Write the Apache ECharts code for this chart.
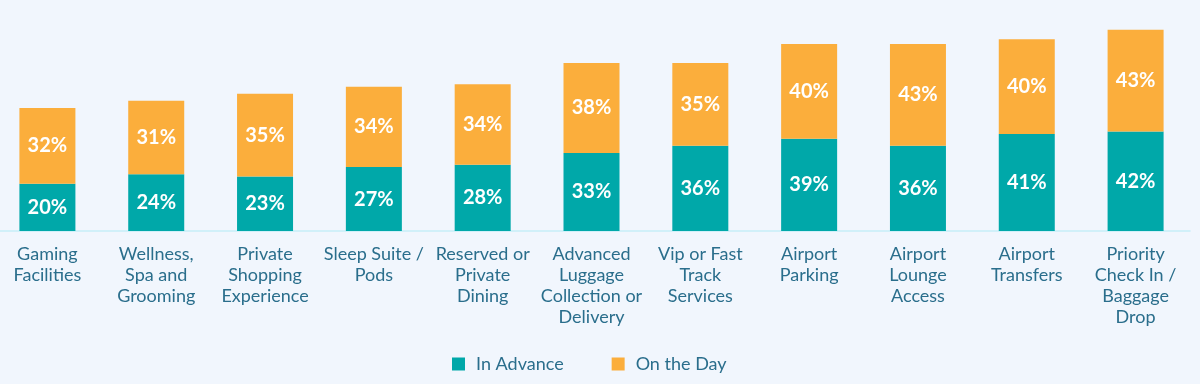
<!DOCTYPE html>
<html>
<head>
<meta charset="utf-8">
<script src="https://cdn.jsdelivr.net/npm/echarts@6/dist/echarts.min.js"></script>
<style>
html,body{margin:0;padding:0;background:#f1f6fd;overflow:hidden;}
#c{width:1207px;height:384px;margin-left:-7px;}
</style>
</head>
<body>
<div id="c"></div>
<script>
const categories = [
  "Gaming\nFacilities",
  "Wellness,\nSpa and\nGrooming",
  "Private\nShopping\nExperience",
  "Sleep Suite /\nPods",
  "Reserved or\nPrivate\nDining",
  "Advanced\nLuggage\nCollection or\nDelivery",
  "Vip or Fast\nTrack\nServices",
  "Airport\nParking",
  "Airport\nLounge\nAccess",
  "Airport\nTransfers",
  "Priority\nCheck In /\nBaggage\nDrop"
];
const inAdvance = [20, 24, 23, 27, 28, 33, 36, 39, 36, 41, 42];
const onTheDay = [32, 31, 35, 34, 34, 38, 35, 40, 43, 40, 43];

const textColor = '#2a6e8c';
const labelStyle = {
  show: true,
  position: 'inside',
  color: '#ffffff',
  fontFamily: 'Lato',
  fontWeight: 'bold',
  fontSize: 20,
  formatter: p => p.value + '%'
};

const chart = echarts.init(document.getElementById('c'));
chart.setOption({
  backgroundColor: '#f1f6fd',
  animation: false,
  grid: { left: 0, right: 10, top: 18, bottom: 153, containLabel: false },
  legend: {
    bottom: 11,
    left: 459,
    padding: 0,
    itemWidth: 13,
    itemHeight: 13,
    itemGap: 48,
    icon: 'rect',
    textStyle: { color: textColor, fontFamily: 'Lato', fontSize: 18, padding: [0, 0, 0, 6] },
    data: ['In Advance', 'On the Day']
  },
  xAxis: {
    type: 'category',
    data: categories,
    axisLine: { show: true, lineStyle: { color: '#c6eef7', width: 1.5 } },
    axisTick: { show: false },
    axisLabel: {
      interval: 0,
      color: textColor,
      fontFamily: 'Lato',
      fontSize: 18,
      lineHeight: 21,
      margin: 13
    }
  },
  yAxis: {
    type: 'value',
    min: 0,
    max: 90,
    show: false,
    splitLine: { show: false }
  },
  series: [
    {
      name: 'In Advance',
      type: 'bar',
      stack: 'total',
      data: inAdvance,
      barWidth: 56,
      itemStyle: { color: '#00a8a9' },
      label: labelStyle
    },
    {
      name: 'On the Day',
      type: 'bar',
      stack: 'total',
      data: onTheDay,
      barWidth: 56,
      itemStyle: { color: '#fbae3c' },
      label: labelStyle
    }
  ]
});
</script>
</body>
</html>
